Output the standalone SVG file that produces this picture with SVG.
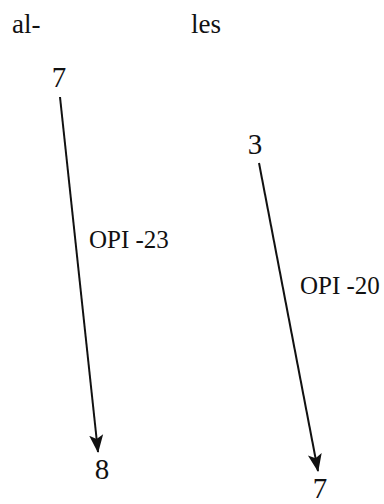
<svg xmlns="http://www.w3.org/2000/svg" width="384" height="504" viewBox="0 0 384 504">
<style>
text { font-family: "Times New Roman", "Liberation Serif", "DejaVu Serif", serif; fill: #111; }
.hdr { font-size: 27px; }
.num { font-size: 29px; text-anchor: middle; }
.lbl { font-size: 25px; }
.edge { stroke: #111; stroke-width: 2; fill: none; }
</style>
<defs>
<marker id="ah" markerUnits="userSpaceOnUse" markerWidth="18" markerHeight="16" viewBox="0 0 18 14" refX="17" refY="7" orient="auto">
<path d="M0,0 L18,7 L0,14 L4,7 Z" fill="#111"/>
</marker>
</defs>
<rect width="384" height="504" fill="#fff"/>
<g id="header-al"><text class="hdr" x="12" y="33">al-</text></g>
<g id="header-les"><text class="hdr" x="191" y="33">les</text></g>
<g id="n-al-top"><text class="num" x="59" y="87">7</text></g>
<g id="n-al-bottom"><text class="num" x="102" y="479">8</text></g>
<g id="n-les-top"><text class="num" x="255" y="154">3</text></g>
<g id="n-les-bottom"><text class="num" x="320" y="498">7</text></g>
<g id="connectors">
<line class="edge" x1="60" y1="97" x2="98" y2="452" marker-end="url(#ah)"/>
<line class="edge" x1="259" y1="163" x2="318" y2="471" marker-end="url(#ah)"/>
<text class="lbl" x="89" y="248">OPI -23</text>
<text class="lbl" x="300" y="294">OPI -20</text>
</g>
</svg>
